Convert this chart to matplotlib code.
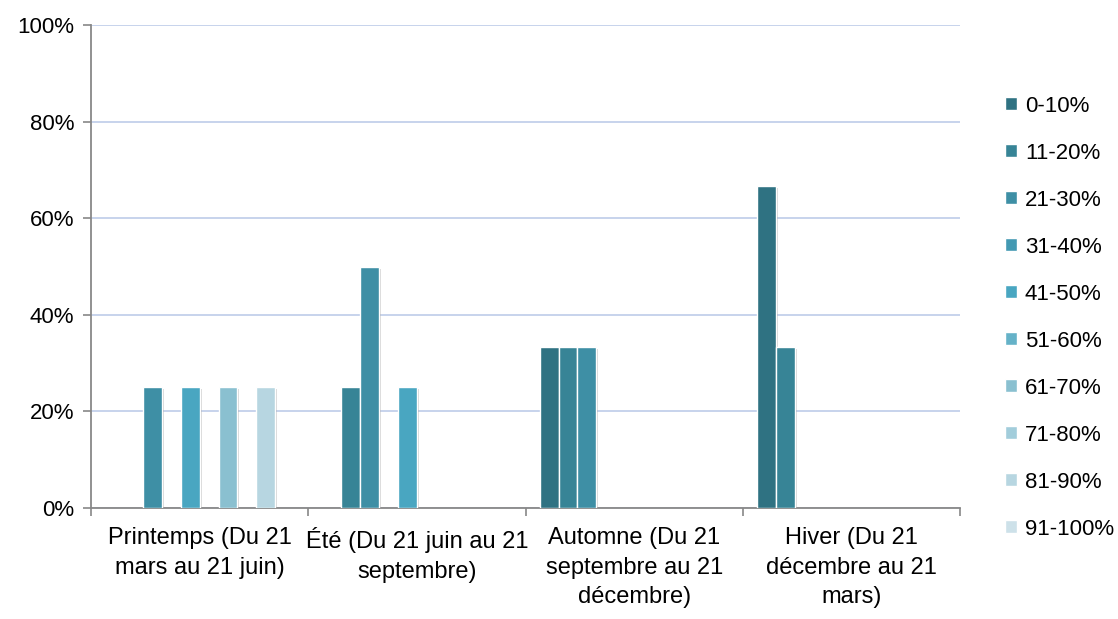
import numpy as np
import matplotlib
matplotlib.use("Agg")
import matplotlib.pyplot as plt
import matplotlib.patheffects as pe
from matplotlib.patches import Patch

plt.rcParams['font.family'] = ['Liberation Sans Narrow', 'Liberation Sans', 'DejaVu Sans']

seasons = ["Printemps (Du 21\nmars au 21 juin)",
           "Été (Du 21 juin au 21\nseptembre)",
           "Automne (Du 21\nseptembre au 21\ndécembre)",
           "Hiver (Du 21\ndécembre au 21\nmars)"]
ranges = ["0-10%", "11-20%", "21-30%", "31-40%", "41-50%",
          "51-60%", "61-70%", "71-80%", "81-90%", "91-100%"]
colors = ["#2f7282", "#378496", "#3e8fa5", "#4399b2", "#49a6c1",
          "#65b2c8", "#8ac0d0", "#a2cddb", "#b7d6e1", "#cde1e9"]
# share of each range per season (percent), rows = ranges
values = np.array([
    [0, 0, 33.33, 66.67],
    [0, 25, 33.33, 33.33],
    [25, 50, 33.33, 0],
    [0, 0, 0, 0],
    [25, 25, 0, 0],
    [0, 0, 0, 0],
    [25, 0, 0, 0],
    [0, 0, 0, 0],
    [25, 0, 0, 0],
    [0, 0, 0, 0],
])

fig = plt.figure(figsize=(11.18, 6.19), dpi=100)
ax = fig.add_axes([0.0814, 0.1793, 0.7773, 0.7803])

n = len(ranges)
slot = 1 / (n + 1.5)
x = np.arange(len(seasons))
shadow = [pe.SimplePatchShadow(offset=(1.5, -1.5), shadow_rgbFace='#888888', alpha=0.35), pe.Normal()]
for j in range(n):
    pos = x - 0.5 + (0.75 + j + 0.5) * slot
    mask = values[j] > 0
    bars = ax.bar(pos[mask], values[j][mask], width=slot, color=colors[j],
                  edgecolor='white', linewidth=1, zorder=3)
    for b in bars:
        b.set_path_effects(shadow)

fs = 16
ax.set_xlim(-0.5, len(seasons) - 0.5)
ax.set_ylim(0, 100)
ax.set_yticks(np.arange(0, 101, 20))
ax.set_yticklabels([f"{v}%" for v in range(0, 101, 20)], fontsize=fs)
ax.set_xticks(np.arange(-0.5, len(seasons), 1))
ax.set_xticklabels([])
ax.set_xticks(x, minor=True)
ax.set_xticklabels(seasons, minor=True, fontsize=17, linespacing=1.42)
ax.tick_params(axis='x', which='minor', length=0, pad=14)
ax.tick_params(axis='both', which='major', length=6, color='#888888', width=1.2)
ax.tick_params(axis='y', pad=6)

ax.yaxis.grid(True, color='#c3d0ea', linewidth=1.3, zorder=0)
ax.set_axisbelow(True)
for s in ['top', 'right']:
    ax.spines[s].set_visible(False)
for s in ['left', 'bottom']:
    ax.spines[s].set_color('#888888')
    ax.spines[s].set_linewidth(1.3)

handles = [Patch(facecolor=c, edgecolor='white') for c in colors]
fig.legend(handles, ranges, loc='upper left', bbox_to_anchor=(0.881, 0.878),
           frameon=False, fontsize=fs, handlelength=0.55, handleheight=0.55,
           handletextpad=0.35, labelspacing=1.17)

fig.savefig("out.png", dpi=100)
